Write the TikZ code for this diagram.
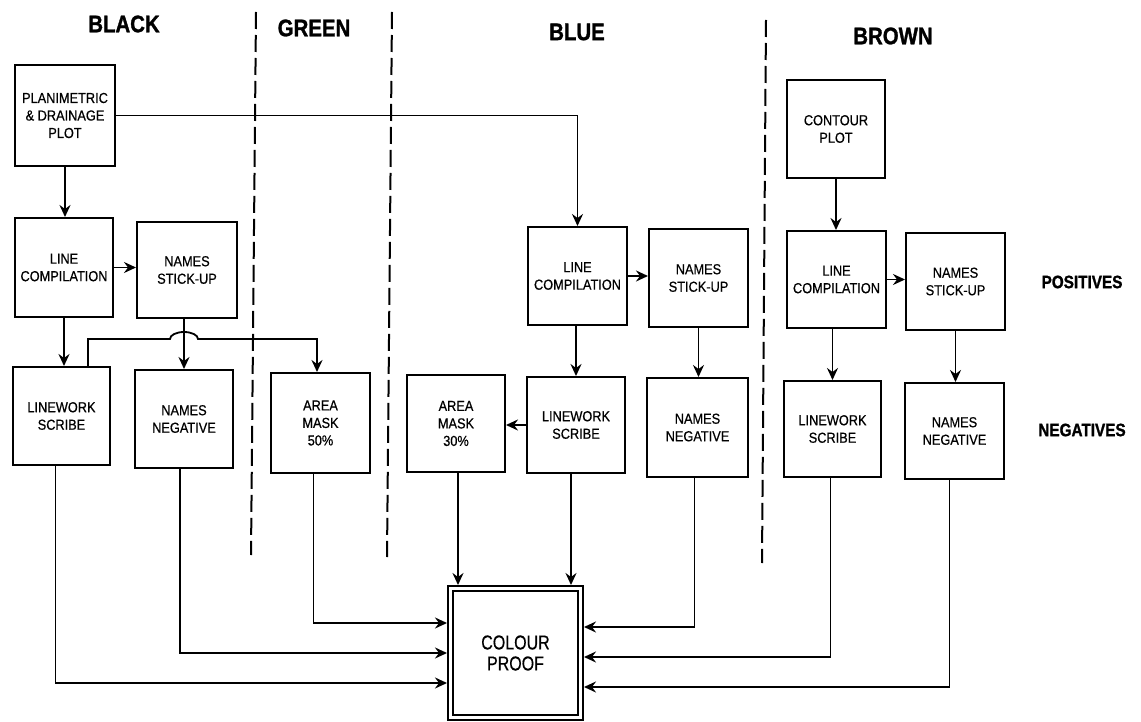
\documentclass[tikz,border=0pt]{standalone}
\usepackage{fontspec}
\usetikzlibrary{arrows.meta,calc}
\newfontfamily\boxfont[FakeStretch=0.88,FakeBold=0.6]{Liberation Sans}
\newfontfamily\headfont[FakeStretch=0.85,FakeBold=1.2]{Liberation Sans}
\newfontfamily\proofont[FakeStretch=0.8,FakeBold=0.5]{Liberation Sans}
\tikzset{
  box/.style={draw, line width=2pt, align=center, inner sep=0pt,
    font=\boxfont\fontsize{14.5}{17.5}\selectfont},
  arr/.style={line width=1.8pt, -{Stealth[length=12pt,width=11pt,inset=4pt]}},
  divider/.style={line width=2pt, dash pattern=on 17pt off 6pt},
  head/.style={font=\headfont\bfseries\fontsize{24}{26}\selectfont, inner sep=0pt},
  side/.style={font=\headfont\bfseries\fontsize{18}{20}\selectfont, inner sep=0pt}
}
\begin{document}
\begin{tikzpicture}[x=1pt,y=-1pt]
\useasboundingbox (0,0) rectangle (1141,722);
% headers
\node[head] (hblack) at (124,24) {BLACK};
\node[head] (hgreen) at (314,28) {GREEN};
\node[head] (hblue) at (577,32) {BLUE};
\node[head] (hbrown) at (893,36) {BROWN};
\node[side] (hpos) at (1082,282) {POSITIVES};
\node[side] (hneg) at (1082,430) {NEGATIVES};
% dividers
\coordinate (d1t) at (256,12); \coordinate (d1b) at (251,555);
\coordinate (d2t) at (392,12); \coordinate (d2b) at (387,557);
\coordinate (d3t) at (766,20); \coordinate (d3b) at (762,563);
\draw[divider] (d1t) -- (d1b);
\draw[divider] (d2t) -- (d2b);
\draw[divider] (d3t) -- (d3b);
% black column
\node[box, minimum width=100pt, minimum height=101pt] (plan) at (65,115.5) {PLANIMETRIC\\\&~DRAINAGE\\PLOT};
\node[box, minimum width=98pt, minimum height=99pt] (bLC) at (64,267.5) {LINE\\COMPILATION};
\node[box, minimum width=100pt, minimum height=96pt] (bNS) at (187,270) {NAMES\\STICK-UP};
\node[box, minimum width=97pt, minimum height=98pt] (bLS) at (61.5,416) {LINEWORK\\SCRIBE};
\node[box, minimum width=98pt, minimum height=98pt] (bNN) at (184,419) {NAMES\\NEGATIVE};
% green
\node[box, minimum width=99pt, minimum height=100pt] (am50) at (320.5,423) {AREA\\MASK\\50\%};
% blue
\node[box, minimum width=98pt, minimum height=97pt] (am30) at (456,423.5) {AREA\\MASK\\30\%};
\node[box, minimum width=99pt, minimum height=98pt] (uLC) at (577.5,276) {LINE\\COMPILATION};
\node[box, minimum width=99pt, minimum height=98pt] (uNS) at (698.5,278) {NAMES\\STICK-UP};
\node[box, minimum width=98pt, minimum height=96pt] (uLS) at (576,425) {LINEWORK\\SCRIBE};
\node[box, minimum width=101pt, minimum height=99pt] (uNN) at (697.5,427.5) {NAMES\\NEGATIVE};
% brown
\node[box, minimum width=98pt, minimum height=98pt] (cont) at (836,129) {CONTOUR\\PLOT};
\node[box, minimum width=99pt, minimum height=97pt] (rLC) at (836.5,279.5) {LINE\\COMPILATION};
\node[box, minimum width=99pt, minimum height=97pt] (rNS) at (955.5,281.5) {NAMES\\STICK-UP};
\node[box, minimum width=97pt, minimum height=96pt] (rLS) at (832.5,429) {LINEWORK\\SCRIBE};
\node[box, minimum width=99pt, minimum height=96pt] (rNN) at (954.5,431) {NAMES\\NEGATIVE};
% colour proof
\node[draw, line width=2pt, minimum width=135pt, minimum height=134pt, align=center,
  font=\proofont\fontsize{20}{21}\selectfont] (cp) at (515.5,653) {COLOUR\\PROOF};
\draw[line width=2pt] ([shift={(5.5pt,-6pt)}]cp.north west) rectangle ([shift={(-6pt,6pt)}]cp.south east);
% black connectors
\draw[arr] (plan.south) -- (plan.south |- bLC.north);
\draw[arr] (plan.east) -| (uLC.north);
\draw[arr] (bLC.east) -- (bLC.east -| bNS.west);
\draw[arr] (bLC.south) -- (bLC.south |- bLS.north);
\draw[arr] (bNN.north |- bNS.south) -- (bNN.north);
\coordinate (hump) at (170,339);
\draw[arr] ([xshift=26.5pt]bLS.north) |- (hump) arc[start angle=180, end angle=0, x radius=14pt, y radius=7pt] -| ([xshift=-3.5pt]am50.north);
% blue connectors
\draw[arr] (uLC.east) -- (uLC.east -| uNS.west);
\draw[arr] (uLS.north |- uLC.south) -- (uLS.north);
\draw[arr] (uNS.south) -- (uNS.south |- uNN.north);
\draw[arr] (uLS.west) -- (uLS.west -| am30.east);
% brown connectors
\draw[arr] (cont.south) -- (cont.south |- rLC.north);
\draw[arr] (rLC.east) -- (rLC.east -| rNS.west);
\draw[arr] (rLS.north |- rLC.south) -- (rLS.north);
\draw[arr] (rNS.south) -- (rNS.south |- rNN.north);
% into colour proof
\draw[arr] ([xshift=2pt]am30.south) -- ([xshift=2pt]am30.south |- cp.north);
\draw[arr] ([xshift=-5pt]uLS.south) -- ([xshift=-5pt]uLS.south |- cp.north);
\draw[arr] ([xshift=-7pt]am50.south) |- ([yshift=30pt]cp.west);
\draw[arr] ([xshift=-4pt]bNN.south) |- (cp.west);
\draw[arr] ([xshift=-6pt]bLS.south) |- ([yshift=-30pt]cp.west);
\draw[arr] ([xshift=-3pt]uNN.south) |- ([yshift=26pt]cp.east);
\draw[arr] ([xshift=-2pt]rLS.south) |- ([yshift=-4pt]cp.east);
\draw[arr] ([xshift=-5pt]rNN.south) |- ([yshift=-34pt]cp.east);
\end{tikzpicture}
\end{document}
